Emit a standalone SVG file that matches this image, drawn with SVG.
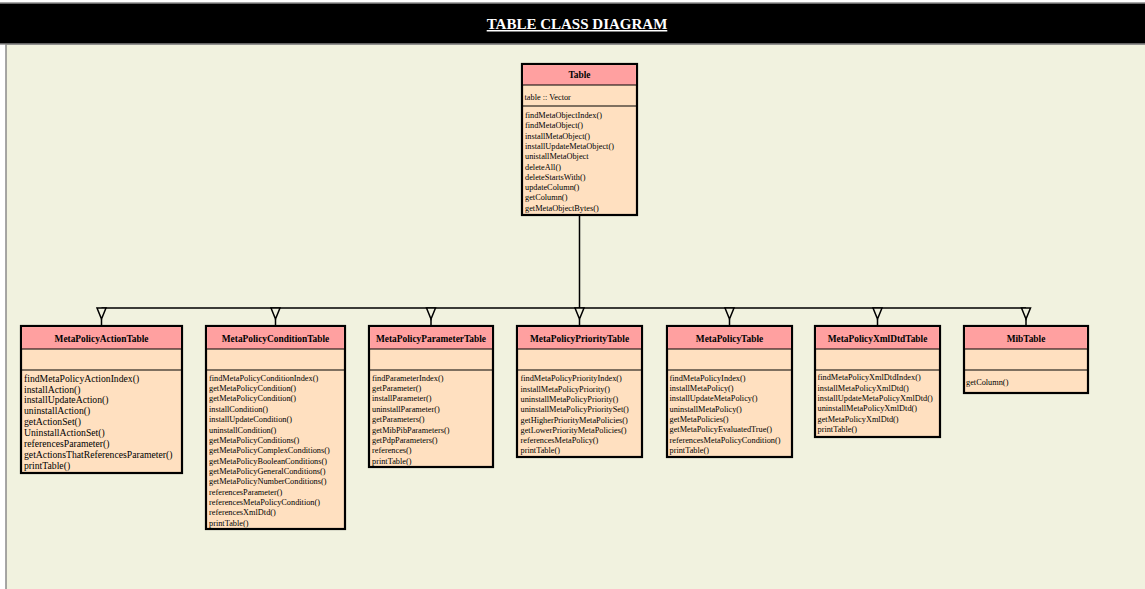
<svg xmlns="http://www.w3.org/2000/svg" width="1145" height="589" viewBox="0 0 1145 589">
  <style>
    .frame { fill: #f1f2df; stroke: #8a8a8a; stroke-width: 1.5; }
    .bar { fill: #000; stroke: #8a8a8a; stroke-width: 1.5; }
    .title { font-family: "Liberation Serif", "Times New Roman", serif; font-size: 15px; font-weight: bold; fill: #fff; text-decoration: underline; }
    .box { fill: #ffe0c0; stroke: #000; stroke-width: 2.2; }
    .head { fill: #ffa0a0; stroke: none; }
    .sep { stroke: #000; stroke-width: 1.2; }
    .name { font-family: "Liberation Serif", "Times New Roman", serif; font-size: 9.4px; font-weight: bold; fill: #000; text-anchor: middle; }
    .op { font-family: "Liberation Serif", "Times New Roman", serif; font-size: 8.3px; fill: #000; }
    .op-lg { font-family: "Liberation Serif", "Times New Roman", serif; font-size: 9.7px; fill: #000; }
    .line { stroke: #000; stroke-width: 1.5; fill: none; }
    .tri { fill: #f1f2df; stroke: #000; stroke-width: 1.5; }
  </style>

  <rect x="0" y="0" width="1145" height="589" fill="#fff"/>
  <rect class="frame" x="6" y="44" width="1145" height="560"/>
  <rect class="bar" x="-2" y="3" width="1150" height="41"/>
  <text class="title" x="577" y="29" text-anchor="middle">TABLE CLASS DIAGRAM</text>

  <!-- generalization connectors -->
  <g id="connectors">
    <path class="line" d="M579.5 215 V308 M101.5 308 H1026"/>
    <g>
      <polygon class="tri" points="97,308 106,308 101.5,319"/>
      <line class="line" x1="101.5" y1="319" x2="101.5" y2="326"/>
      <polygon class="tri" points="271,308 280,308 275.5,319"/>
      <line class="line" x1="275.5" y1="319" x2="275.5" y2="326"/>
      <polygon class="tri" points="426.5,308 435.5,308 431,319"/>
      <line class="line" x1="431" y1="319" x2="431" y2="326"/>
      <polygon class="tri" points="575,308 584,308 579.5,319"/>
      <line class="line" x1="579.5" y1="319" x2="579.5" y2="326"/>
      <polygon class="tri" points="725,308 734,308 729.5,319"/>
      <line class="line" x1="729.5" y1="319" x2="729.5" y2="326"/>
      <polygon class="tri" points="873,308 882,308 877.5,319"/>
      <line class="line" x1="877.5" y1="319" x2="877.5" y2="326"/>
      <polygon class="tri" points="1021.5,308 1030.5,308 1026,319"/>
      <line class="line" x1="1026" y1="319" x2="1026" y2="326"/>
    </g>
  </g>

  <!-- base class -->
  <g id="Table">
    <rect class="box" x="522" y="64" width="115" height="151"/>
    <rect class="head" x="523.1" y="65.1" width="112.8" height="19.9"/>
    <line class="sep" x1="522" y1="85" x2="637" y2="85"/>
    <line class="sep" x1="522" y1="106" x2="637" y2="106"/>
    <text class="name" x="579.5" y="78.3">Table</text>
    <text class="op" x="524.5" y="99.7">table :: Vector</text>
    <text class="op" x="525" y="118">findMetaObjectIndex()</text>
    <text class="op" x="525" y="128.3">findMetaObject()</text>
    <text class="op" x="525" y="138.6">installMetaObject()</text>
    <text class="op" x="525" y="148.9">installUpdateMetaObject()</text>
    <text class="op" x="525" y="159.2">unistallMetaObject</text>
    <text class="op" x="525" y="169.5">deleteAll()</text>
    <text class="op" x="525" y="179.8">deleteStartsWith()</text>
    <text class="op" x="525" y="190.1">updateColumn()</text>
    <text class="op" x="525" y="200.4">getColumn()</text>
    <text class="op" x="525" y="210.7">getMetaObjectBytes()</text>
  </g>

  <g id="MetaPolicyActionTable">
    <rect class="box" x="21" y="326" width="161" height="147"/>
    <rect class="head" x="22.1" y="327.1" width="158.8" height="21.9"/>
    <line class="sep" x1="21" y1="349" x2="182" y2="349"/>
    <line class="sep" x1="21" y1="370" x2="182" y2="370"/>
    <text class="name" x="101.5" y="342.3">MetaPolicyActionTable</text>
    <text class="op-lg" x="24" y="381.6">findMetaPolicyActionIndex()</text>
    <text class="op-lg" x="24" y="392.5">installAction()</text>
    <text class="op-lg" x="24" y="403.4">installUpdateAction()</text>
    <text class="op-lg" x="24" y="414.3">uninstallAction()</text>
    <text class="op-lg" x="24" y="425.2">getActionSet()</text>
    <text class="op-lg" x="24" y="436.1">UninstallActionSet()</text>
    <text class="op-lg" x="24" y="447">referencesParameter()</text>
    <text class="op-lg" x="24" y="457.9">getActionsThatReferencesParameter()</text>
    <text class="op-lg" x="24" y="468.8">printTable()</text>
  </g>

  <g id="MetaPolicyConditionTable">
    <rect class="box" x="206" y="326" width="139" height="203"/>
    <rect class="head" x="207.1" y="327.1" width="136.8" height="21.9"/>
    <line class="sep" x1="206" y1="349" x2="345" y2="349"/>
    <line class="sep" x1="206" y1="370" x2="345" y2="370"/>
    <text class="name" x="275.5" y="342.3">MetaPolicyConditionTable</text>
    <text class="op" x="209" y="380.7">findMetaPolicyConditionIndex()</text>
    <text class="op" x="209" y="391.1">getMetaPolicyCondition()</text>
    <text class="op" x="209" y="401.4">getMetaPolicyCondition()</text>
    <text class="op" x="209" y="411.8">installCondition()</text>
    <text class="op" x="209" y="422.1">installUpdateCondition()</text>
    <text class="op" x="209" y="432.5">uninstallCondition()</text>
    <text class="op" x="209" y="442.9">getMetaPolicyConditions()</text>
    <text class="op" x="209" y="453.2">getMetaPolicyComplexConditions()</text>
    <text class="op" x="209" y="463.6">getMetaPolicyBooleanConditions()</text>
    <text class="op" x="209" y="473.9">getMetaPolicyGeneralConditions()</text>
    <text class="op" x="209" y="484.3">getMetaPolicyNumberConditions()</text>
    <text class="op" x="209" y="494.7">referencesParameter()</text>
    <text class="op" x="209" y="505">referencesMetaPolicyCondition()</text>
    <text class="op" x="209" y="515.4">referencesXmlDtd()</text>
    <text class="op" x="209" y="525.7">printTable()</text>
  </g>

  <g id="MetaPolicyParameterTable">
    <rect class="box" x="369" y="326" width="124" height="141"/>
    <rect class="head" x="370.1" y="327.1" width="121.8" height="21.9"/>
    <line class="sep" x1="369" y1="349" x2="493" y2="349"/>
    <line class="sep" x1="369" y1="370" x2="493" y2="370"/>
    <text class="name" x="431" y="342.3">MetaPolicyParameterTable</text>
    <text class="op" x="372" y="380.7">findParameterIndex()</text>
    <text class="op" x="372" y="391.1">getParameter()</text>
    <text class="op" x="372" y="401.4">installParameter()</text>
    <text class="op" x="372" y="411.8">uninstallParameter()</text>
    <text class="op" x="372" y="422.1">getParameters()</text>
    <text class="op" x="372" y="432.5">getMibPibParameters()</text>
    <text class="op" x="372" y="442.9">getPdpParameters()</text>
    <text class="op" x="372" y="453.2">references()</text>
    <text class="op" x="372" y="463.6">printTable()</text>
  </g>

  <g id="MetaPolicyPriorityTable">
    <rect class="box" x="517" y="326" width="125" height="131"/>
    <rect class="head" x="518.1" y="327.1" width="122.8" height="21.9"/>
    <line class="sep" x1="517" y1="349" x2="642" y2="349"/>
    <line class="sep" x1="517" y1="370" x2="642" y2="370"/>
    <text class="name" x="579.5" y="342.3">MetaPolicyPriorityTable</text>
    <text class="op" x="520.5" y="381.3">findMetaPolicyPriorityIndex()</text>
    <text class="op" x="520.5" y="391.6">installMetaPolicyPriority()</text>
    <text class="op" x="520.5" y="401.9">uninstallMetaPolicyPriority()</text>
    <text class="op" x="520.5" y="412.2">uninstallMetaPolicyPrioritySet()</text>
    <text class="op" x="520.5" y="422.5">getHigherPriorityMetaPolicies()</text>
    <text class="op" x="520.5" y="432.8">getLowerPriorityMetaPolicies()</text>
    <text class="op" x="520.5" y="443.1">referencesMetaPolicy()</text>
    <text class="op" x="520.5" y="453.4">printTable()</text>
  </g>

  <g id="MetaPolicyTable">
    <rect class="box" x="667" y="326" width="125" height="131"/>
    <rect class="head" x="668.1" y="327.1" width="122.8" height="21.9"/>
    <line class="sep" x1="667" y1="349" x2="792" y2="349"/>
    <line class="sep" x1="667" y1="370" x2="792" y2="370"/>
    <text class="name" x="729.5" y="342.3">MetaPolicyTable</text>
    <text class="op" x="669.5" y="380.7">findMetaPolicyIndex()</text>
    <text class="op" x="669.5" y="391">installMetaPolicy()</text>
    <text class="op" x="669.5" y="401.3">installUpdateMetaPolicy()</text>
    <text class="op" x="669.5" y="411.6">uninstallMetaPolicy()</text>
    <text class="op" x="669.5" y="421.9">getMetaPolicies()</text>
    <text class="op" x="669.5" y="432.2">getMetaPolicyEvaluatedTrue()</text>
    <text class="op" x="669.5" y="442.5">referencesMetaPolicyCondition()</text>
    <text class="op" x="669.5" y="452.8">printTable()</text>
  </g>

  <g id="MetaPolicyXmlDtdTable">
    <rect class="box" x="815" y="326" width="125" height="111"/>
    <rect class="head" x="816.1" y="327.1" width="122.8" height="21.9"/>
    <line class="sep" x1="815" y1="349" x2="940" y2="349"/>
    <line class="sep" x1="815" y1="370" x2="940" y2="370"/>
    <text class="name" x="877.5" y="342.3">MetaPolicyXmlDtdTable</text>
    <text class="op" x="817.5" y="380.3">findMetaPolicyXmlDtdIndex()</text>
    <text class="op" x="817.5" y="390.7">installMetaPolicyXmlDtd()</text>
    <text class="op" x="817.5" y="401">installUpdateMetaPolicyXmlDtd()</text>
    <text class="op" x="817.5" y="411.4">uninstallMetaPolicyXmlDtd()</text>
    <text class="op" x="817.5" y="421.7">getMetaPolicyXmlDtd()</text>
    <text class="op" x="817.5" y="432.1">printTable()</text>
  </g>

  <g id="MibTable">
    <rect class="box" x="964" y="326" width="124" height="67"/>
    <rect class="head" x="965.1" y="327.1" width="121.8" height="21.9"/>
    <line class="sep" x1="964" y1="349" x2="1088" y2="349"/>
    <line class="sep" x1="964" y1="370" x2="1088" y2="370"/>
    <text class="name" x="1026" y="342.3">MibTable</text>
    <text class="op" x="966" y="385">getColumn()</text>
  </g>
</svg>
